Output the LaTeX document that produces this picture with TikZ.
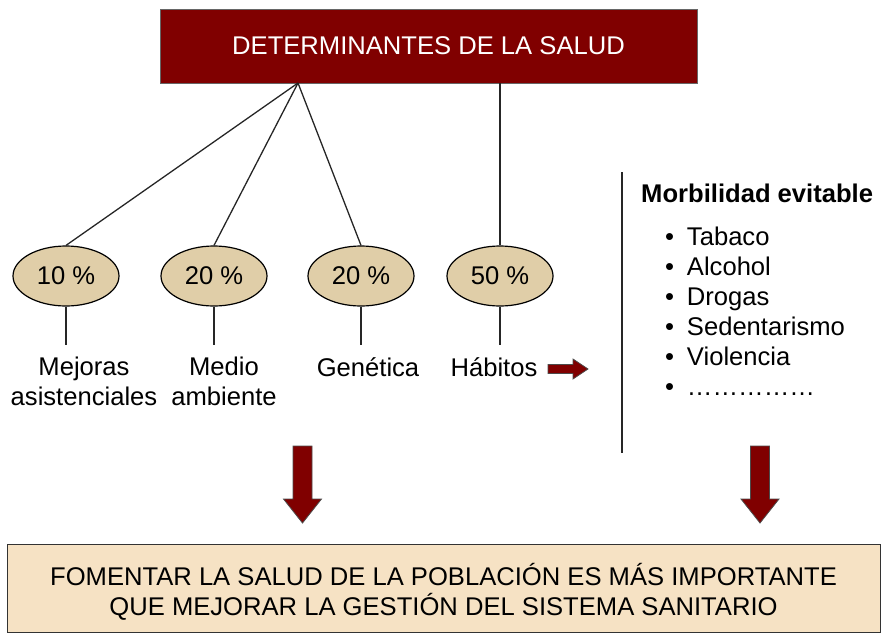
\documentclass[tikz,border=0pt]{standalone}
\usepackage{fontspec}
\setmainfont{Liberation Sans}
\usepackage{xcolor}
\usepackage{tikz}
\usetikzlibrary{shapes.geometric,positioning,calc}
\definecolor{granate}{RGB}{128,0,0}
\definecolor{beige}{RGB}{224,206,168}
\definecolor{crema}{RGB}{246,226,196}

\begin{document}
\begin{tikzpicture}[x=1pt,y=-1pt,font=\fontsize{25.6}{30}\selectfont,
  titulo/.style={draw=black!60,line width=0.8pt,fill=granate,text=white,minimum width=537pt,minimum height=74pt,inner sep=0pt},
  pct/.style={ellipse,draw,line width=1.2pt,fill=beige,minimum width=106pt,minimum height=60pt,inner sep=0pt},
  rama/.style={line width=1.3pt,black!85},
  etiqueta/.style={align=center,inner sep=0pt,anchor=north},
  flecha/.style={draw=black!70,line width=0.8pt,fill=granate},
  conclusion/.style={draw=black!80,line width=1pt,fill=crema,minimum width=873pt,minimum height=88pt,align=center,inner sep=0pt}]
\useasboundingbox (0,0) rectangle (882,634);
%\draw[help lines] (0,0) grid[step=50] (882,634);
\node [titulo] (det) at (428.5,46) {DETERMINANTES DE LA SALUD};
\coordinate (horq) at (298,83);
\node [pct] (p1) at (66,276) {10 \%};
\node [pct] (p2) at (214,276) {20 \%};
\node [pct] (p3) at (361,276) {20 \%};
\node [pct] (p4) at (500,276) {50 \%};
\draw [rama] (horq) -- (p1.north);
\draw [rama] (horq) -- (p2.north);
\draw [rama] (horq) -- (p3.north);
\draw [rama] (p4.north |- det.south) -- (p4.north);
\draw [rama] (p1.south) -- ++(0,38) coordinate (b1);
\draw [rama] (p2.south) -- ++(0,38) coordinate (b2);
\draw [rama] (p3.south) -- ++(0,38) coordinate (b3);
\draw [rama] (p4.south) -- ++(0,38) coordinate (b4);
\node [etiqueta] (asist) at (84,357) {Mejoras\\asistenciales};
\node [etiqueta] (medio) at (224,357) {Medio\\ambiente};
\node [etiqueta] (gen) at (368,357) {Genética};
\node [etiqueta] (hab) at (494,357) {Hábitos};
%\draw [dashed] (b1) -- (asist);
% flecha de habitos
\draw [flecha] (548,364.5) -- (573,364.5) -- (573,359) -- (588,369) -- (573,379) -- (573,373.5) -- (548,373.5) -- cycle;
\draw [rama] (622,172) -- (622,453);
\node [anchor=west,inner sep=0pt,font=\fontsize{25.6}{30}\selectfont\bfseries] (morb) at (641,193) {Morbilidad evitable};
\node [anchor=north west,inner sep=0pt,align=left] (lista) at (665,227) {•\enspace Tabaco\\•\enspace Alcohol\\•\enspace Drogas\\•\enspace Sedentarismo\\•\enspace Violencia\\•\enspace ……………};
% flechas hacia la conclusion
\draw [flecha] (293,446) -- (312,446) -- (312,499) -- (321.5,499) -- (302.5,523) -- (283.5,499) -- (293,499) -- cycle;
\draw [flecha] (750.5,446) -- (769.5,446) -- (769.5,499) -- (779,499) -- (760,523) -- (741,499) -- (750.5,499) -- cycle;
\node [conclusion] (fom) at (443.5,588) {\rule{0pt}{29pt}FOMENTAR LA SALUD DE LA POBLACIÓN ES MÁS IMPORTANTE\\QUE MEJORAR LA GESTIÓN DEL SISTEMA SANITARIO};
\end{tikzpicture}
\end{document}
